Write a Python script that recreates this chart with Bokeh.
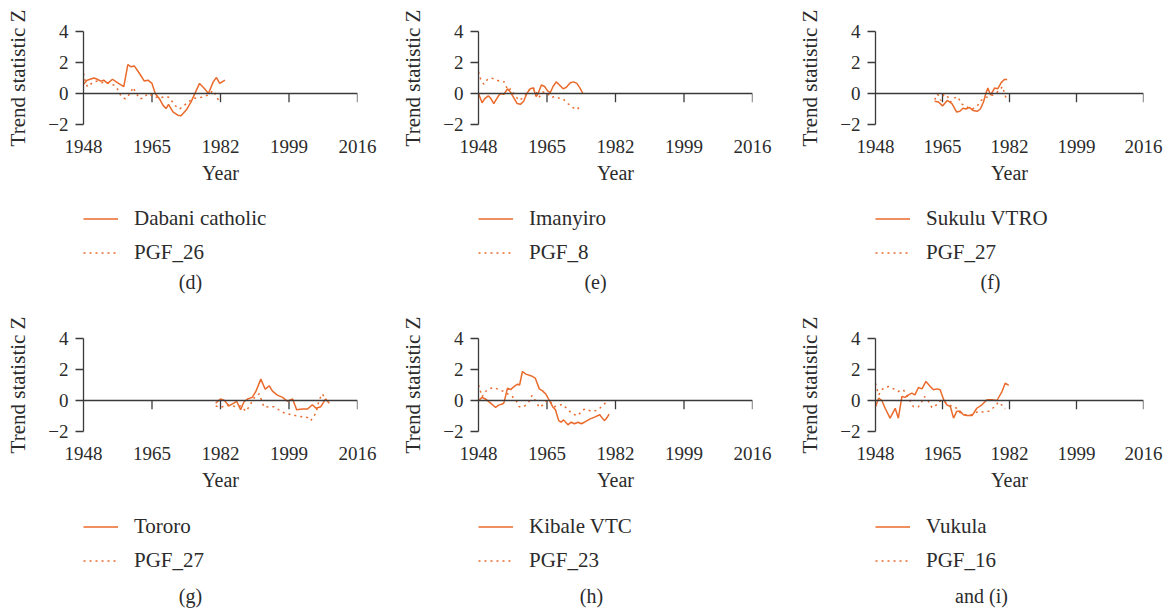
from bokeh.plotting import figure
from bokeh.layouts import row, column
from bokeh.models import FixedTicker, Legend, LegendItem, Span, Label
from bokeh.embed import file_html
from bokeh.resources import INLINE

# ---------------- data ----------------
x_ticks = [1948, 1965, 1982, 1999, 2016]
y_ticks = [-2, 0, 2, 4]
y_tick_labels = {-2: "\u22122", 0: "0", 2: "2", 4: "4"}
x_axis_title = "Year"
y_axis_title = "Trend statistic Z"

# (d)
d_station = "Dabani catholic"
d_pgf = "PGF_26"
d_station_year = [1948.0, 1948.9, 1950.6, 1951.4, 1952.3, 1953.0, 1954.0, 1955.2, 1956.4, 1958.0, 1959.0, 1959.8, 1960.6, 1961.9, 1963.1, 1964.0, 1965.0, 1965.8, 1966.8, 1967.7, 1968.5, 1969.1, 1970.2, 1971.4, 1972.2, 1973.5, 1974.7, 1976.0, 1976.8, 1978.0, 1979.0, 1980.2, 1981.0, 1981.8, 1983.1]
d_station_z = [0.6, 0.86, 1.0, 0.92, 0.8, 0.86, 0.65, 0.92, 0.7, 0.45, 1.87, 1.72, 1.78, 1.29, 0.8, 0.86, 0.65, 0.0, -0.32, -0.75, -0.97, -0.7, -1.18, -1.4, -1.44, -1.07, -0.54, 0.2, 0.65, 0.32, 0.0, 0.75, 1.03, 0.65, 0.86]
d_pgf_year = [1948.0, 1948.5, 1949.0, 1950.0, 1950.6, 1951.5, 1952.5, 1953.5, 1954.5, 1955.5, 1956.4, 1957.4, 1958.4, 1959.6, 1960.3, 1961.0, 1962.0, 1962.8, 1964.0, 1965.6, 1966.8, 1968.1, 1969.3, 1970.6, 1971.8, 1972.7, 1973.9, 1975.6, 1977.2, 1978.9, 1980.2, 1981.0, 1981.8]
d_pgf_z = [1.3, 0.7, 0.43, 0.65, 0.75, 0.8, 0.7, 0.75, 0.6, 0.55, 0.3, -0.2, -0.35, 0.0, 0.4, 0.05, -0.35, -0.3, 0.0, -0.2, -0.3, -0.2, -0.25, -0.75, -1.0, -0.85, -0.55, -0.3, -0.25, -0.1, 0.2, -0.2, -0.55]

# (e)
e_station = "Imanyiro"
e_pgf = "PGF_8"
e_station_year = [1948.0, 1948.9, 1949.5, 1950.4, 1951.0, 1951.8, 1952.6, 1953.4, 1954.3, 1955.2, 1955.9, 1956.8, 1957.6, 1958.4, 1959.2, 1960.0, 1960.8, 1961.6, 1962.3, 1962.8, 1963.6, 1964.4, 1965.2, 1965.8, 1966.5, 1967.3, 1968.1, 1969.0, 1969.8, 1970.8, 1971.6, 1972.4, 1973.2, 1973.9]
e_station_z = [0.0, -0.6, -0.35, -0.15, -0.3, -0.65, -0.3, 0.0, -0.05, 0.3, 0.1, -0.3, -0.65, -0.7, -0.5, 0.0, 0.3, 0.35, -0.2, 0.0, 0.55, 0.45, 0.15, 0.05, 0.45, 0.75, 0.55, 0.3, 0.4, 0.7, 0.75, 0.65, 0.35, 0.0]
e_pgf_year = [1948.0, 1948.5, 1949.3, 1950.2, 1951.2, 1952.2, 1953.2, 1954.4, 1955.3, 1956.0, 1957.0, 1958.0, 1959.0, 1960.0, 1961.0, 1962.0, 1963.0, 1964.0, 1965.0, 1966.0, 1967.0, 1968.0, 1969.0, 1970.2, 1971.4, 1972.4, 1973.3]
e_pgf_z = [1.4, 0.95, 0.6, 0.9, 1.0, 0.9, 0.8, 0.75, 0.2, 0.3, -0.1, -0.45, -0.3, 0.0, 0.4, 0.3, -0.25, 0.1, 0.05, -0.25, -0.2, -0.3, -0.35, -0.65, -0.9, -1.05, -0.8]

# (f)
f_station = "Sukulu VTRO"
f_pgf = "PGF_27"
f_station_year = [1963.0, 1964.0, 1965.0, 1966.2, 1967.4, 1968.6, 1969.4, 1970.2, 1971.0, 1971.8, 1972.8, 1973.8, 1974.6, 1975.4, 1976.0, 1976.5, 1977.2, 1978.2, 1979.0, 1979.9, 1980.7, 1981.4]
f_station_z = [-0.5, -0.55, -0.8, -0.45, -0.65, -1.2, -1.15, -0.95, -1.0, -0.9, -1.1, -1.15, -1.0, -0.55, 0.0, 0.35, -0.1, 0.35, 0.3, 0.7, 0.9, 0.9]
f_pgf_year = [1963.0, 1963.8, 1964.6, 1965.4, 1966.2, 1967.0, 1968.0, 1968.8, 1970.0, 1971.4, 1972.6, 1973.8, 1974.8, 1976.0, 1976.8, 1978.2, 1979.4, 1980.2, 1981.0, 1981.4]
f_pgf_z = [-0.4, -0.05, -0.45, -0.05, -0.15, -0.55, -0.3, -0.2, -0.7, -0.9, -1.0, -0.8, -0.45, -0.25, -0.2, -0.05, 0.2, 0.45, -0.2, -0.45]

# (g)
g_station = "Tororo"
g_pgf = "PGF_27"
g_station_year = [1980.8, 1982.0, 1983.0, 1984.1, 1985.4, 1986.0, 1987.0, 1987.8, 1988.7, 1989.9, 1990.8, 1992.0, 1993.1, 1994.1, 1994.9, 1996.1, 1997.4, 1998.6, 1999.9, 2000.9, 2002.3, 2003.6, 2004.8, 2005.7, 2006.9, 2008.1, 2009.0]
g_station_z = [-0.17, 0.1, 0.0, -0.35, -0.15, -0.05, -0.6, -0.1, 0.1, 0.2, 0.6, 1.38, 0.73, 0.95, 0.6, 0.35, 0.2, -0.05, 0.1, -0.6, -0.55, -0.55, -0.27, -0.5, -0.4, 0.1, -0.17]
g_pgf_year = [1980.8, 1982.0, 1983.3, 1984.5, 1985.7, 1987.0, 1988.3, 1989.1, 1990.3, 1991.6, 1992.8, 1994.1, 1995.3, 1996.5, 1997.8, 1999.4, 2001.1, 2002.3, 2003.6, 2004.4, 2005.7, 2006.5, 2007.3, 2008.1]
g_pgf_z = [-0.35, -0.43, -0.35, -0.3, -0.4, -0.35, -0.7, -0.4, 0.15, 0.43, -0.43, -0.4, -0.4, -0.6, -0.8, -0.9, -1.0, -1.05, -1.1, -1.3, -0.8, 0.05, 0.43, 0.05]

# (h)
h_station = "Kibale VTC"
h_pgf = "PGF_23"
h_station_year = [1948.0, 1948.9, 1949.7, 1951.0, 1952.25, 1953.0, 1953.9, 1954.3, 1955.2, 1956.0, 1956.8, 1957.7, 1958.2, 1958.9, 1959.75, 1961.0, 1962.1, 1963.1, 1963.9, 1964.75, 1965.6, 1966.4, 1967.1, 1967.9, 1968.5, 1969.1, 1970.2, 1971.0, 1971.8, 1972.7, 1973.5, 1974.3, 1975.6, 1976.8, 1978.1, 1978.75, 1979.3, 1979.9, 1980.4]
h_station_z = [0.0, 0.2, 0.1, -0.17, -0.45, -0.3, -0.23, -0.15, 0.8, 0.7, 0.9, 1.05, 1.0, 1.87, 1.7, 1.6, 1.44, 0.75, 0.62, 0.4, 0.0, -0.4, -0.6, -1.3, -1.4, -1.25, -1.57, -1.4, -1.5, -1.4, -1.5, -1.4, -1.2, -1.07, -0.92, -1.15, -1.3, -1.1, -0.88]
h_pgf_year = [1948.0, 1948.9, 1949.75, 1950.6, 1951.8, 1953.1, 1954.3, 1955.6, 1956.4, 1957.25, 1958.1, 1959.3, 1960.6, 1961.25, 1962.25, 1963.1, 1963.9, 1964.75, 1965.6, 1966.8, 1968.1, 1968.9, 1970.2, 1971.4, 1972.7, 1973.9, 1974.75, 1976.0, 1977.25, 1978.1, 1978.9, 1979.75]
h_pgf_z = [1.0, 0.25, 0.58, 0.75, 0.84, 0.7, 0.58, 0.36, 0.25, 0.05, -0.4, -0.4, -0.05, 0.32, -0.05, -0.45, -0.3, -0.05, 0.0, -0.4, -0.3, -0.25, -0.6, -0.88, -0.97, -0.6, -0.55, -0.7, -0.65, -0.5, -0.3, -0.1]

# (i)
i_station = "Vukula"
i_pgf = "PGF_16"
i_station_year = [1948.0, 1948.8, 1949.6, 1950.45, 1951.7, 1952.6, 1953.0, 1953.8, 1954.7, 1955.5, 1956.4, 1957.2, 1958.0, 1958.9, 1959.8, 1960.8, 1961.9, 1962.7, 1963.6, 1964.4, 1965.3, 1966.1, 1967.0, 1967.8, 1968.6, 1969.5, 1970.3, 1971.2, 1972.5, 1973.7, 1975.0, 1976.3, 1977.5, 1978.8, 1980.1, 1980.9, 1981.8]
i_station_z = [-0.4, 0.15, 0.0, -0.5, -1.14, -0.7, -0.5, -1.14, 0.26, 0.2, 0.36, 0.47, 0.36, 0.84, 0.75, 1.23, 0.9, 0.69, 0.75, 0.69, 0.05, -0.28, -0.4, -1.14, -0.7, -0.7, -0.92, -0.97, -0.97, -0.5, -0.28, 0.05, 0.05, 0.0, 0.58, 1.12, 0.97]
i_pgf_year = [1948.0, 1948.8, 1950.0, 1951.3, 1952.6, 1953.8, 1955.1, 1956.4, 1957.6, 1958.9, 1959.8, 1960.4, 1961.45, 1962.3, 1963.1, 1964.0, 1965.3, 1966.5, 1967.8, 1968.6, 1969.5, 1970.75, 1972.45, 1974.1, 1975.4, 1976.7, 1978.0, 1979.2, 1980.5, 1980.9]
i_pgf_z = [1.1, 0.36, 0.8, 0.9, 0.75, 0.58, 0.69, 0.15, -0.4, -0.4, -0.05, 0.26, -0.05, -0.45, -0.4, -0.05, -0.05, -0.28, -0.4, -0.5, -0.8, -0.92, -0.92, -0.7, -0.75, -0.7, -0.45, -0.1, -0.4, -0.55]

captions = ["(d)", "(e)", "(f)", "(g)", "(h)", "and (i)"]

# ---------------- style / layout ----------------
FONT = "Liberation Serif"
TXT = "#2b2b2b"
AX = "#3a3a3a"
ORANGE = "#EA6A2B"
ROW_H = 307
FRAME_H = 93
TOP = 31
BOTTOM = 68
PLOT_H = TOP + FRAME_H + BOTTOM     # 192
LEG_H = ROW_H - PLOT_H              # 115
DASH = "2 4"
ITEM_H = 25
ITEM_GAP = 9


def make_panel(station, pgf, sx, sy, px, py, caption, left, frame_w, fig_w,
               cap_dx, cap_row_y, leg_row_y):
    p = figure(x_range=(1948, 2016), y_range=(-2, 4), frame_width=frame_w, frame_height=FRAME_H,
               min_border_left=left, min_border_right=fig_w - left - frame_w,
               min_border_top=TOP, min_border_bottom=BOTTOM,
               output_backend="svg", toolbar_location=None)
    p.outline_line_color = None
    p.xgrid.visible = False
    p.ygrid.visible = False

    ya = p.yaxis[0]
    ya.ticker = FixedTicker(ticks=y_ticks)
    ya.major_label_overrides = y_tick_labels
    ya.major_tick_out = 8
    ya.major_tick_in = 0
    ya.minor_tick_line_color = None
    ya.axis_line_color = AX
    ya.axis_line_width = 1.3
    ya.major_tick_line_color = AX
    ya.major_tick_line_width = 1.3
    ya.major_label_standoff = 7
    ya.major_label_text_font = FONT
    ya.major_label_text_font_size = "19px"
    ya.major_label_text_color = TXT
    ya.axis_label = y_axis_title
    ya.axis_label_text_font = FONT
    ya.axis_label_text_font_size = "21px"
    ya.axis_label_text_font_style = "normal"
    ya.axis_label_text_color = TXT
    ya.axis_label_standoff = 15

    xa = p.xaxis[0]
    xa.ticker = FixedTicker(ticks=x_ticks)
    xa.axis_line_color = None
    xa.major_tick_line_color = None
    xa.minor_tick_line_color = None
    xa.major_tick_out = 0
    xa.major_tick_in = 0
    xa.major_label_standoff = 15
    xa.major_label_text_font = FONT
    xa.major_label_text_font_size = "19px"
    xa.major_label_text_color = TXT
    xa.axis_label = x_axis_title
    xa.axis_label_text_font = FONT
    xa.axis_label_text_font_size = "20px"
    xa.axis_label_text_font_style = "normal"
    xa.axis_label_text_color = TXT
    xa.axis_label_standoff = 6

    # zero line with downward ticks
    p.add_layout(Span(location=0, dimension="width", line_color=AX, line_width=1.3))
    p.segment(x0=x_ticks[1:], y0=[0] * 4, x1=x_ticks[1:], y1=[-0.56] * 4,
              line_color=AX, line_width=1.3)

    p.line(sx, sy, line_color=ORANGE, line_width=1.5)
    p.line(px, py, line_color=ORANGE, line_width=1.5, line_dash=DASH)

    # legend + caption strip below the plot (frame is aligned with the plot above)
    q = figure(width=fig_w, height=LEG_H, x_range=(0, 1), y_range=(0, 1),
               min_border=0, x_axis_location=None, y_axis_location=None,
               output_backend="svg", toolbar_location=None)
    q.outline_line_color = None
    q.xgrid.visible = False
    q.ygrid.visible = False
    nan = float("nan")
    k1 = q.line([nan], [nan], line_color=ORANGE, line_width=1.5)
    k2 = q.line([nan], [nan], line_color=ORANGE, line_width=1.5, line_dash=DASH)
    leg_h = 2 * ITEM_H + ITEM_GAP
    leg_top = leg_row_y - ITEM_H / 2 - PLOT_H
    leg = Legend(items=[LegendItem(label=station, renderers=[k1]),
                        LegendItem(label=pgf, renderers=[k2])],
                 location=(0, LEG_H - leg_top - leg_h), orientation="vertical",
                 border_line_color=None, background_fill_alpha=0,
                 padding=0, margin=0, spacing=ITEM_GAP,
                 glyph_width=35, glyph_height=ITEM_H, label_height=ITEM_H,
                 label_standoff=16, label_text_font=FONT,
                 label_text_font_size="21px", label_text_color=TXT,
                 label_text_baseline="middle")
    q.add_layout(leg, "center")
    q.add_layout(Label(x=cap_dx, y=LEG_H - (cap_row_y - PLOT_H),
                       x_units="screen", y_units="screen",
                       text=caption, text_font=FONT,
                       text_font_size="20px", text_color=TXT,
                       text_align="center", text_baseline="middle"))
    return column(p, q, spacing=0)


pd_ = make_panel(d_station, d_pgf, d_station_year, d_station_z, d_pgf_year, d_pgf_z, captions[0], 83, 274, 395, 107, 281, 218)
pe_ = make_panel(e_station, e_pgf, e_station_year, e_station_z, e_pgf_year, e_pgf_z, captions[1], 83, 274, 395, 117, 281, 218)
pf_ = make_panel(f_station, f_pgf, f_station_year, f_station_z, f_pgf_year, f_pgf_z, captions[2], 85, 268, 383, 115, 281, 218)
pg_ = make_panel(g_station, g_pgf, g_station_year, g_station_z, g_pgf_year, g_pgf_z, captions[3], 83, 274, 395, 107, 288, 219)
ph_ = make_panel(h_station, h_pgf, h_station_year, h_station_z, h_pgf_year, h_pgf_z, captions[4], 83, 274, 395, 113, 288, 219)
pi_ = make_panel(i_station, i_pgf, i_station_year, i_station_z, i_pgf_year, i_pgf_z, captions[5], 85, 268, 383, 106, 288, 219)

layout = column(row(pd_, pe_, pf_, spacing=0), row(pg_, ph_, pi_, spacing=0), spacing=0)
open("out.html", "w").write(file_html(layout, INLINE))
